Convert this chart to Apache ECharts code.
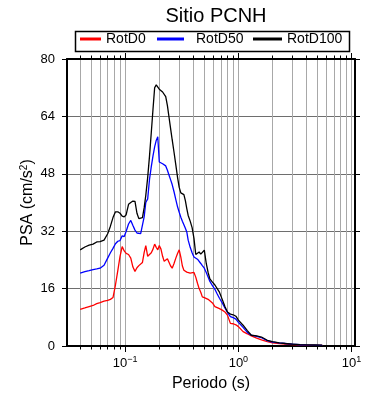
<!DOCTYPE html>
<html><head><meta charset="utf-8">
<script src="https://cdn.jsdelivr.net/npm/echarts@6/dist/echarts.min.js"></script>
<style>html,body{margin:0;padding:0;background:#fff}#c{width:390px;height:400px}</style>
</head><body><div id="c"></div>
<script>
const periods = [0.040,0.044,0.048,0.052,0.056,0.060,0.065,0.070,0.074,0.078,0.082,0.086,0.090,0.094,0.098,
0.102,0.107,0.112,0.117,0.122,0.127,0.132,0.137,0.142,0.147,0.152,0.158,0.164,0.170,0.176,0.182,0.188,0.194,0.200,
0.207,0.214,0.221,0.228,0.236,0.244,0.252,0.260,0.270,0.280,0.290,0.300,0.310,0.320,0.330,0.340,0.350,0.360,
0.375,0.390,0.405,0.420,0.435,0.450,0.465,0.480,0.500,0.520,0.540,0.560,
0.590,0.620,0.650,0.680,0.720,0.760,0.800,0.850,0.900,0.950,
1.00,1.10,1.20,1.30,1.45,1.60,1.80,2.00,2.30,2.60,3.00,3.50,4.00,4.70,5.50];

const rotD0 = [10.2,10.6,11.0,11.3,11.8,12.1,12.5,12.7,13.0,13.5,17.0,21.0,25.0,27.7,26.5,
25.8,25.5,24.5,22.0,20.8,21.8,22.4,22.8,23.3,26.0,28.0,25.0,24.8,26.0,27.0,28.4,27.5,26.8,28.0,
27.0,25.0,23.6,23.7,24.3,23.8,22.3,21.7,23.0,24.5,25.8,26.8,24.8,22.3,21.1,20.8,20.6,20.4,
20.3,20.6,20.5,19.2,17.5,16.0,15.0,13.7,13.5,13.3,13.0,12.6,
12.0,11.0,10.7,10.4,10.0,9.5,8.6,6.3,6.2,5.9,
5.4,4.0,3.4,2.8,2.2,1.7,1.2,0.9,0.65,0.5,0.4,0.3,0.25,0.2,0.17];

const rotD50 = [20.3,20.7,21.0,21.3,21.5,21.7,22.5,24.5,26.0,27.2,28.5,29.2,29.4,30.7,30.5,
32.0,34.0,35.0,33.6,32.3,31.5,31.2,31.3,31.5,36.0,40.0,41.0,46.5,50.0,53.0,55.5,57.3,58.3,51.3,
50.9,50.8,50.7,50.2,49.0,47.6,46.3,45.0,43.0,40.8,38.8,37.3,35.9,34.8,33.8,32.8,31.8,29.5,
27.5,26.0,24.8,24.4,24.2,23.8,23.0,22.4,21.7,20.5,19.2,18.0,
16.8,15.8,14.5,13.3,12.0,10.6,9.4,8.2,7.9,7.5,
6.6,5.2,3.8,3.0,2.7,2.3,1.5,1.1,0.85,0.7,0.5,0.35,0.3,0.25,0.2];

const rotD100 = [26.8,27.6,28.1,28.4,29.0,29.1,29.5,31.3,33.4,35.8,37.4,37.4,37.0,36.2,36.0,
36.6,39.5,40.0,40.4,40.3,37.0,35.5,35.4,35.8,38.5,42.0,47.0,53.0,59.5,66.0,72.0,72.8,73.2,71.6,
71.2,70.8,70.5,69.5,67.0,63.7,60.5,57.5,54.0,50.5,47.0,44.2,42.7,42.7,42.2,40.5,38.3,36.4,
34.8,33.0,30.0,25.5,25.0,26.2,25.6,25.8,26.7,23.0,20.5,18.7,
17.8,17.0,16.0,15.0,13.0,11.0,9.5,8.9,8.7,8.3,
7.2,5.8,4.3,3.0,2.8,2.5,1.6,1.2,0.9,0.7,0.55,0.4,0.33,0.28,0.22];

const minorTicks = [0.04,0.05,0.06,0.07,0.08,0.09,0.2,0.3,0.4,0.5,0.6,0.7,0.8,0.9,2,3,4,5,6,7,8,9];
const majorTicks = [0.1,1,10];
const gridTicks = minorTicks.concat(majorTicks);
const yTicks = [0,16,32,48,64,80];

const seriesNames = ['RotD0','RotD50','RotD100'];
const seriesColors = ['#ff0000','#0000ff','#000000'];
const seriesValues = [rotD0, rotD50, rotD100];

const chart = echarts.init(document.getElementById('c'), null, {renderer:'canvas'});
const FONT = 'Liberation Sans';
const xRange = {type:'log', logBase:10, min:0.0306, max:10.72};

function expLabel(v){
  const e = Math.round(Math.log10(v));
  return '{b|10}{s|' + (e < 0 ? '\u2212' + (-e) : e) + '}';
}

const xAxes = [
  Object.assign({}, xRange, {position:'bottom',
    axisLine:{show:true, onZero:false, lineStyle:{color:'#000', width:2}},
    axisTick:{show:true, inside:false, length:3.5, customValues:gridTicks, lineStyle:{color:'#000', width:1}},
    axisLabel:{show:false},
    splitLine:{show:true, lineStyle:{color:'#a8a8a8', width:1}}}),
  Object.assign({}, xRange, {position:'bottom',
    axisLine:{show:false, onZero:false},
    axisTick:{show:true, inside:false, length:6, customValues:majorTicks, lineStyle:{color:'#000', width:1}},
    axisLabel:{show:true, customValues:majorTicks, margin:9, formatter:expLabel,
      rich:{b:{fontSize:13, color:'#000', fontFamily:FONT}, s:{fontSize:9, color:'#000', fontFamily:FONT, padding:[0,0,7,0]}}},
    splitLine:{show:false},
    name:'Periodo (s)', nameLocation:'middle', nameGap:30, nameMoveOverlap:false,
    nameTextStyle:{fontSize:16, color:'#000', fontFamily:FONT}}),
  Object.assign({}, xRange, {position:'top',
    axisLine:{show:true, onZero:false, lineStyle:{color:'#000', width:2}},
    axisTick:{show:true, inside:false, length:3.5, customValues:gridTicks, lineStyle:{color:'#000', width:1}},
    axisLabel:{show:false}, splitLine:{show:false}}),
  Object.assign({}, xRange, {position:'top',
    axisLine:{show:false, onZero:false},
    axisTick:{show:true, inside:false, length:6, customValues:majorTicks, lineStyle:{color:'#000', width:1}},
    axisLabel:{show:false}, splitLine:{show:false}})
];

const yBase = {type:'value', min:yTicks[0], max:yTicks[yTicks.length-1], interval:16};
const yAxes = [
  Object.assign({}, yBase, {position:'left',
    axisLine:{show:true, onZero:false, lineStyle:{color:'#000', width:2}},
    axisTick:{show:true, inside:false, length:5, lineStyle:{color:'#000', width:1}},
    axisLabel:{show:true, margin:12, fontSize:13, color:'#000', fontFamily:FONT},
    splitLine:{show:true, lineStyle:{color:'#6e6e6e', width:1}},
    name:'PSA (cm/s{sup|2})', nameLocation:'middle', nameGap:30, nameMoveOverlap:false,
    nameTextStyle:{fontSize:16, color:'#000', fontFamily:FONT,
      rich:{sup:{fontSize:10, color:'#000', fontFamily:FONT, padding:[0,0,8,0]}}}}),
  Object.assign({}, yBase, {position:'right',
    axisLine:{show:true, onZero:false, lineStyle:{color:'#000', width:2}},
    axisTick:{show:true, inside:false, length:5, lineStyle:{color:'#000', width:1}},
    axisLabel:{show:false}, splitLine:{show:false}})
];

const legendSpecs = [
  {left:80, itemWidth:21},
  {left:157, itemWidth:27, pad:7},
  {left:253, itemWidth:29}
];

const option = {
  animation:false,
  backgroundColor:'#fff',
  textStyle:{fontFamily:FONT},
  title:{text:'Sitio PCNH', left:211, top:1, textAlign:'center',
    textStyle:{fontSize:20, fontWeight:'normal', color:'#000', fontFamily:FONT}},
  legend: legendSpecs.map((s, i) => ({
    data:[seriesNames[i]], left:s.left, top:32, padding:0,
    itemWidth:s.itemWidth, itemHeight:3, icon:'rect',
    textStyle:{fontSize:14, color:'#000', fontFamily:FONT, padding:[0,0,0,s.pad||0]}
  })),
  graphic:[{type:'rect', left:73, top:29, shape:{width:274, height:20},
    style:{fill:'none', stroke:'#000', lineWidth:1.5}, z:10}],
  grid:{left:67, right:35, top:59, bottom:54, containLabel:false},
  xAxis: xAxes,
  yAxis: yAxes,
  series: seriesNames.map((n, i) => ({
    name:n, type:'line', xAxisIndex:0, yAxisIndex:0,
    data: periods.map((p, k) => [p, seriesValues[i][k]]),
    showSymbol:false, symbol:'none', color:seriesColors[i],
    lineStyle:{color:seriesColors[i], width:1.3}, z:3+i
  }))
};
chart.setOption(option);
</script>
</body></html>
